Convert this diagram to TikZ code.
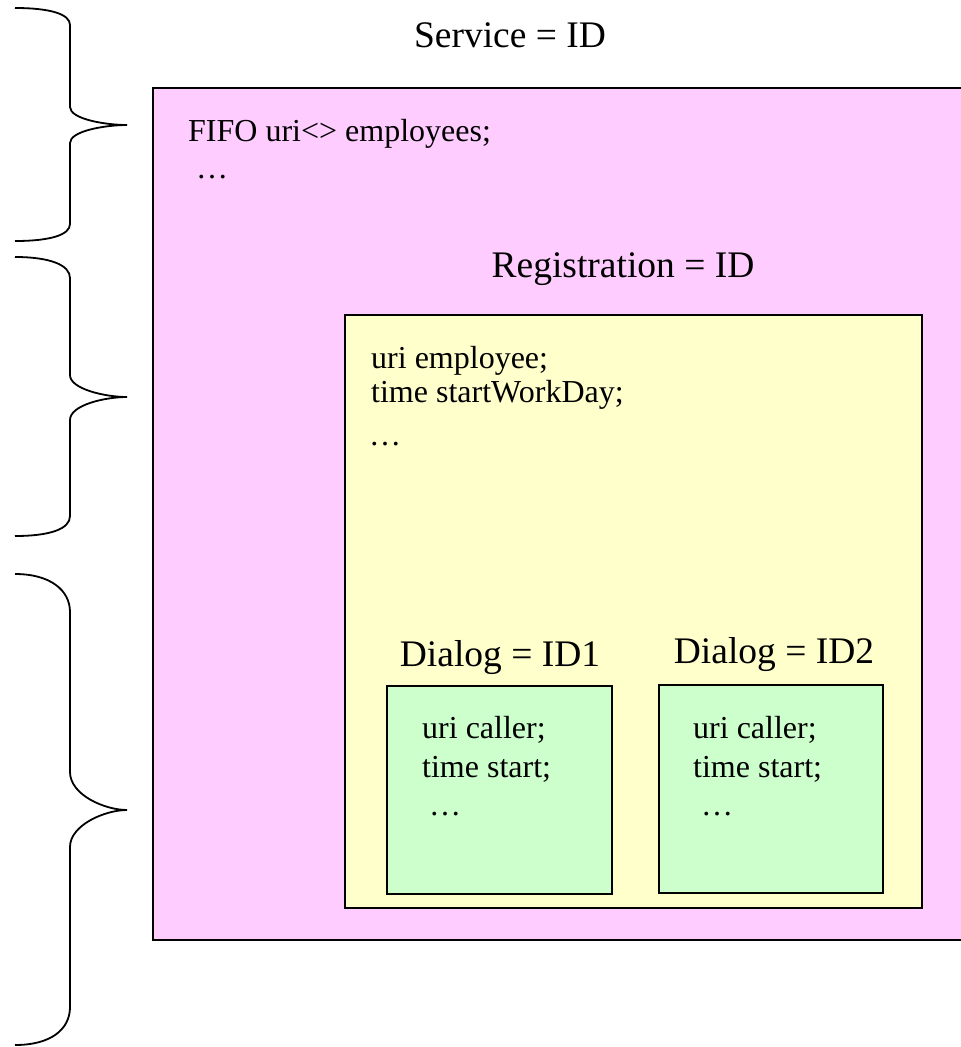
\documentclass[tikz,border=0pt]{standalone}
\usepackage{fontspec}
\setmainfont{Liberation Serif}
\definecolor{pinkfill}{HTML}{FFCCFF}
\definecolor{yellowfill}{HTML}{FFFFCC}
\definecolor{greenfill}{HTML}{CCFFCC}
\tikzset{
  box/.style={draw=black, line width=1.8pt, rectangle, anchor=north west, inner sep=0pt, outer sep=0pt},
  title/.style={inner sep=0pt, anchor=base, font=\fontsize{37.5}{41}\selectfont},
  body/.style={inner sep=0pt, anchor=base west, font=\fontsize{32}{35}\selectfont},
  brace/.style={draw=black, line width=1.8pt}
}
\begin{document}
\begin{tikzpicture}[x=1pt,y=-1pt]
\useasboundingbox (0,0) rectangle (961,1047);
\clip (0,0) rectangle (961,1047);
\fill[white] (0,0) rectangle (961,1047);

% boxes
\node[box, fill=pinkfill, minimum width=830pt, minimum height=852pt] (service) at (153,88) {};
\node[box, fill=yellowfill, minimum width=577pt, minimum height=593pt] (registration) at (345,315) {};
\node[box, fill=greenfill, line width=1.5pt, minimum width=225pt, minimum height=208pt] (dialog1) at (387,686) {};
\node[box, fill=greenfill, line width=1.5pt, minimum width=224pt, minimum height=208pt] (dialog2) at (659,685) {};

% titles
\node[title] (servicetitle) at (510,47) {Service = ID};
\node[title] (regtitle) at (623,277) {Registration = ID};
\node[title] (dialogtitleA) at (500,666) {Dialog = ID1};
\node[title] (dialogtitleB) at (774,663) {Dialog = ID2};

% service body
\node[body] (fifo) at (188,141) {FIFO uri<> employees;};
\node[body] (servicedots) at (196,178) {…};

% registration body
\node[body] (regA) at (371,368) {uri employee;};
\node[body] (regB) at (371,402) {time startWorkDay;};
\node[body] (regdots) at (369,445) {…};

% dialog 1 body
\node[body] (dAa) at (422,738) {uri caller;};
\node[body] (dAb) at (422,777) {time start;};
\node[body] (dAdots) at (429,815) {…};

% dialog 2 body
\node[body] (dBa) at (693,738) {uri caller;};
\node[body] (dBb) at (693,777) {time start;};
\node[body] (dBdots) at (701,815) {…};

% braces
\draw[brace] (15,8) .. controls (50,8) and (70,14) .. (70,25) -- (70,107)
  .. controls (70,119) and (105,125) .. (127,125)
  .. controls (105,125) and (70,131) .. (70,143) -- (70,224)
  .. controls (70,235) and (50,241) .. (15,241);
\draw[brace] (15,257) .. controls (50,257) and (70,265) .. (70,278) -- (70,375)
  .. controls (70,389) and (105,397) .. (127,397)
  .. controls (105,397) and (70,405) .. (70,420) -- (70,516)
  .. controls (70,529) and (50,536) .. (15,536);
\draw[brace] (15,574) .. controls (50,574) and (70,590) .. (70,612) -- (70,772)
  .. controls (70,795) and (105,810) .. (127,810)
  .. controls (105,810) and (70,825) .. (70,847) -- (70,1007)
  .. controls (70,1030) and (50,1045) .. (15,1045);
\end{tikzpicture}
\end{document}
